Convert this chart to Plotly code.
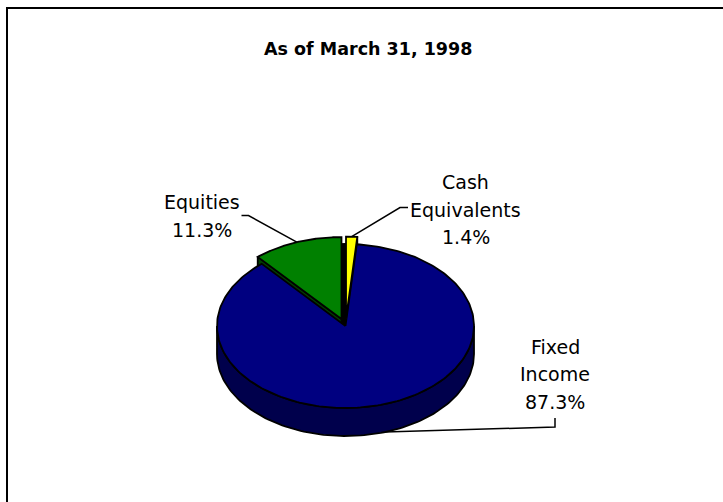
import numpy as np
import plotly.graph_objects as go

# ---- data ----
categories = ["Cash Equivalents", "Fixed Income", "Equities"]
label_lines = [["Cash", "Equivalents"], ["Fixed", "Income"], ["Equities"]]
values = [1.4, 87.3, 11.3]
title_text = "As of March 31, 1998"

# ---- style / layout ----
top_colors = ["#FFFF00", "#000080", "#008000"]
side_colors = ["#A0A000", "#00004C", "#004000"]
explode = [0.09, 0.0, 0.09]
W, H = 723, 502
CX, CY, RX, RY, DEPTH = 345.5, 326.0, 128.5, 82.0, 28.0
FONT = "DejaVu Sans"
LINE_GAP = 27.8
OUTLINE = 1.8
label_layout = [
    dict(x=465.5, y=181.7, elbow=(400, 207.5), end=(408, 207.5), side=False),
    dict(x=555.0, y=346.5, elbow=(555, 427), end=(555, 418), side=True),
    dict(x=201.5, y=202.0, elbow=(248.5, 215.5), end=(241.5, 215.5), side=False),
]

def pt(theta_deg, off=(0, 0), drop=0.0):
    t = np.radians(theta_deg)
    return CX + off[0] + RX * np.cos(t), CY + off[1] - RY * np.sin(t) + drop

fig = go.Figure()

def poly(xs, ys, fill, lw=OUTLINE):
    fig.add_trace(go.Scatter(x=list(xs) + [xs[0]], y=list(ys) + [ys[0]], mode="lines",
                             fill="toself", fillcolor=fill,
                             line=dict(color="black", width=lw),
                             hoverinfo="skip", showlegend=False))

def sector(s, off):
    th = np.linspace(s["a0"], s["a1"], 240)
    ax, ay = CX + off[0], CY + off[1]
    xs = [ax] + [pt(t, off)[0] for t in th]
    ys = [ay] + [pt(t, off)[1] for t in th]
    return xs, ys

total = sum(values)
slices = []
a = 90.0
for i, v in enumerate(values):
    a0 = a
    a1 = a - v / total * 360.0
    a = a1
    b = (a0 + a1) / 2
    bt = np.radians(b)
    off = (explode[i] * RX * np.cos(bt), -explode[i] * RY * np.sin(bt))
    slices.append(dict(a0=a0, a1=a1, b=b, off=off))

# dark hollow where exploded slices came from
for i, s in enumerate(slices):
    if explode[i] > 0:
        xs, ys = sector(s, (0, 0))
        poly(xs, ys, "black")

# radial faces (visible ones)
for i, s in enumerate(slices):
    for edge, normal in ((s["a0"], s["a0"] + 90), (s["a1"], s["a1"] - 90)):
        if np.sin(np.radians(normal)) < -1e-6 and explode[i] > 0:
            ax, ay = CX + s["off"][0], CY + s["off"][1]
            ex, ey = pt(edge, s["off"])
            poly([ax, ex, ex, ax], [ay, ey, ey + DEPTH, ay + DEPTH], side_colors[i])

# side walls (front rim)
for i, s in enumerate(slices):
    lo, hi = s["a1"], s["a0"]
    for k in range(-2, 2):
        f0, f1 = -180 + 360 * k, 0 + 360 * k
        l, h = max(lo, f0), min(hi, f1)
        if h - l > 0.01:
            th = np.linspace(l, h, 120)
            top = [pt(t, s["off"]) for t in th]
            bot = [pt(t, s["off"], DEPTH) for t in th[::-1]]
            xs = [p[0] for p in top] + [p[0] for p in bot]
            ys = [p[1] for p in top] + [p[1] for p in bot]
            poly(xs, ys, side_colors[i])

# top surfaces: non-exploded first
order = sorted(range(len(values)), key=lambda i: explode[i])
for i in order:
    xs, ys = sector(slices[i], slices[i]["off"])
    poly(xs, ys, top_colors[i])

# leader lines and labels
annotations = []
for i, s in enumerate(slices):
    L = label_layout[i]
    if L["side"]:
        sx, sy = pt(s["b"], s["off"], DEPTH)
    else:
        sx, sy = pt(s["b"], s["off"])
    fig.add_trace(go.Scatter(x=[sx, L["elbow"][0], L["end"][0]], y=[sy, L["elbow"][1], L["end"][1]],
                             mode="lines", line=dict(color="black", width=1.5),
                             hoverinfo="skip", showlegend=False))
    lines = label_lines[i] + [f"{values[i]:.1f}%"]
    for j, txt in enumerate(lines):
        annotations.append(dict(x=L["x"], y=L["y"] + j * LINE_GAP, xref="x", yref="y",
                                text=txt, showarrow=False, xanchor="center", yanchor="middle",
                                font=dict(family=FONT, size=19, color="black")))

annotations.append(dict(x=367.5, y=49.0, xref="x", yref="y", text=f"<b>{title_text}</b>",
                        showarrow=False, xanchor="center", yanchor="middle",
                        font=dict(family=FONT, size=17.5, color="black")))

fig.update_layout(
    width=W, height=H, margin=dict(l=0, r=0, t=0, b=0),
    paper_bgcolor="white", plot_bgcolor="white",
    xaxis=dict(range=[0, W], visible=False, fixedrange=True),
    yaxis=dict(range=[H, 0], visible=False, fixedrange=True),
    annotations=annotations,
    shapes=[dict(type="rect", xref="x", yref="y", x0=7, y0=8, x1=W + 30, y1=H + 30,
                 line=dict(color="black", width=2), fillcolor="rgba(0,0,0,0)", layer="above")],
)

fig.write_html("out.html", config={"displayModeBar": False},
               post_script="document.body.style.margin='0';document.body.style.overflow='hidden';")
